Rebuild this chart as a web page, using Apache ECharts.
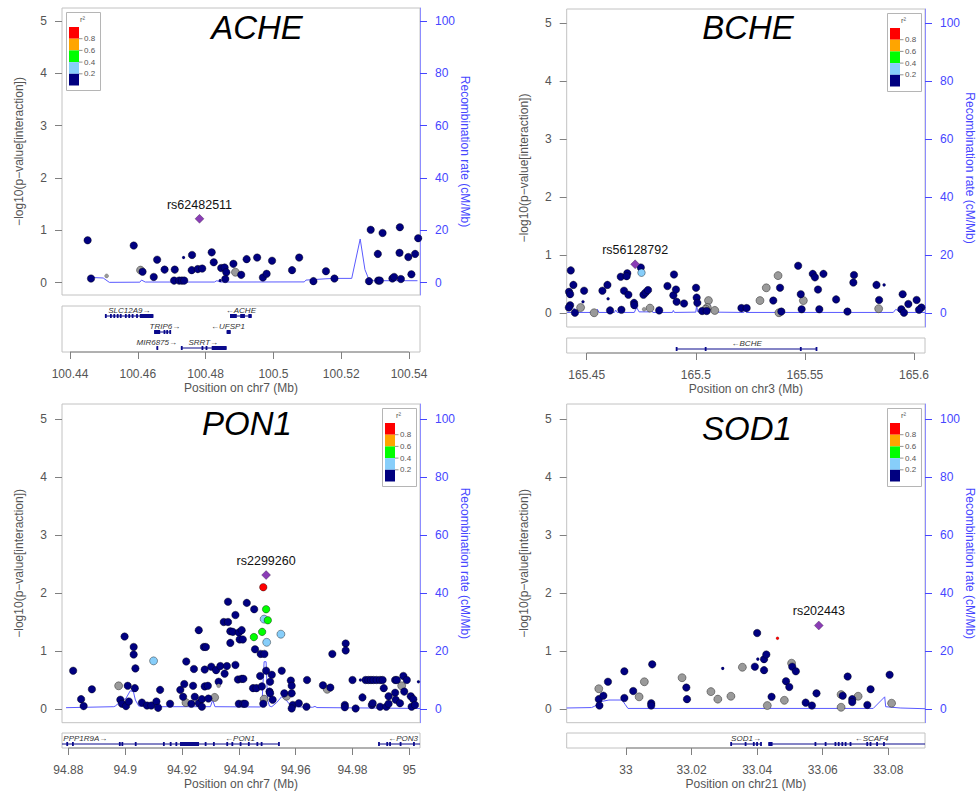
<!DOCTYPE html>
<html>
<head>
<meta charset="utf-8">
<title>Regional association plots</title>
<script src="https://cdn.jsdelivr.net/npm/echarts@6/dist/echarts.min.js"></script>
<style>
  html, body { margin: 0; padding: 0; background: #fff; }
  #main { width: 977px; height: 794px; }
</style>
</head>
<body>
<div id="main"></div>
<script>
var FONT = '"Liberation Sans", Arial, Helvetica, sans-serif';
var NAVY = '#000080', GREY = '#9a9a9a', LBLUE = '#87CEFA', GREEN = '#00FF00', RED = '#FF0000', LEAD = '#8a3db5';
var GENE = '#0a0a8c', BLUE = '#4646ff', RECOMB = '#5a5aff';

// shared tick values and r2 legend
var pTicks = [0, 1, 2, 3, 4, 5];
var recTicks = [0, 20, 40, 60, 80, 100];
var ldColors = ['#FF0000', '#FFA500', '#00FF00', '#87CEFA', '#000080'];
var ldLabels = ['0.8', '0.6', '0.4', '0.2'];

// ---------- ACHE ----------
var acheTicks = [100.44, 100.46, 100.48, 100.5, 100.52, 100.54];
var acheNavy = [[100.4452,0.81],[100.4462,0.08],[100.4588,0.71],[100.4614,0.21],[100.4647,0.11],[100.4657,0.44],
  [100.4679,0.25],[100.4709,0.25],[100.4707,0.04],[100.4722,0.04],[100.4730,0.04],[100.4737,0.04],[100.4760,0.53],
  [100.4759,0.24],[100.4777,0.26],[100.4790,0.27],[100.4818,0.58],[100.4824,0.39],[100.4846,0.28],[100.4856,0.29],
  [100.4861,0.20],[100.4858,0.07],[100.4882,0.36],[100.4905,0.15],[100.4921,0.45],[100.4952,0.48],[100.4969,0.10],
  [100.4980,0.17],[100.4996,0.42],[100.5055,0.24],[100.5076,0.48],[100.5118,0.03],[100.5155,0.22],[100.5180,0.08],
  [100.5282,0.03],[100.5287,1.01],[100.5308,0.55],[100.5309,0.04],[100.5314,0.04],[100.5322,0.95],[100.5351,0.08],
  [100.5356,0.11],[100.5373,1.06],[100.5372,0.57],[100.5376,0.07],[100.5398,0.49],[100.5407,0.16],[100.5418,0.55],
  [100.5427,0.85]];
var acheGrey = [[100.4608,0.24],[100.4888,0.20]];
var acheNavySmall = [[100.4735,0.48],[100.4843,0.04]];
var acheGreySmall = [[100.4508,0.13]];
var acheLead = [[100.4782,1.22]];
var acheRecomb = [[100.4462,2.0],[100.4498,1.8],[100.4516,0.13],[100.4606,0.2],[100.4611,1.0],[100.4622,0.25],
  [100.4826,0.25],[100.4833,0.75],[100.4845,0.25],[100.5091,0.3],[100.5096,1.0],[100.5155,1.5],[100.5184,1.65],
  [100.5231,1.65],[100.5256,16.7],[100.5270,5.0],[100.5282,1.1],[100.5295,0.76],[100.5425,0.76]];
var acheGenes = [
  {name: 'SLC12A9', strand: 1, row: 1, start: 100.4503, end: 100.4646, label: 100.4575,
   exons: [[100.4503,100.4505],[100.4518,100.4519],[100.4528,100.4529],[100.4538,100.4539],[100.4547,100.4548],
           [100.4562,100.4563],[100.4572,100.4573],[100.4582,100.4583],[100.4595,100.4596],[100.4606,100.4646]]},
  {name: 'ACHE', strand: -1, row: 1, start: 100.4872, end: 100.4936, label: 100.4904,
   exons: [[100.4872,100.4892],[100.4902,100.4916],[100.4926,100.4936]]},
  {name: 'TRIP6', strand: 1, row: 2, start: 100.4648, end: 100.4695, label: 100.4680,
   exons: [[100.4648,100.4666],[100.4676,100.4677],[100.4684,100.4685],[100.4693,100.4695]]},
  {name: 'UFSP1', strand: -1, row: 2, start: 100.4862, end: 100.4874, label: 100.4866,
   exons: [[100.4862,100.4874]]},
  {name: 'MIR6875', strand: 1, row: 3, start: 100.4655, end: 100.4657, label: 100.4656,
   exons: [[100.4655,100.4657]]},
  {name: 'SRRT', strand: 1, row: 3, start: 100.4727, end: 100.4862, label: 100.4793,
   exons: [[100.4727,100.4729],[100.4788,100.4790],[100.4800,100.4802],[100.4818,100.4862]]}
];

// ---------- BCHE ----------
var bcheTicks = [165.45, 165.5, 165.55, 165.6];
var bcheNavy = [[165.4427,0.74],[165.4439,0.49],[165.4419,0.37],[165.4424,0.33],[165.4424,0.14],[165.4418,0.10],
  [165.4446,0.01],[165.4488,0.39],[165.4572,0.39],[165.4595,0.49],[165.4607,0.05],[165.4659,0.06],[165.4656,0.63],
  [165.4686,0.69],[165.4683,0.64],[165.4671,0.39],[165.4691,0.32],[165.4717,0.18],[165.4718,0.14],[165.4748,0.79],
  [165.4760,0.32],[165.4770,0.36],[165.4781,0.40],[165.4832,0.05],[165.4870,0.47],[165.4900,0.67],[165.4897,0.31],
  [165.4909,0.41],[165.4912,0.20],[165.4946,0.17],[165.5001,0.44],[165.5004,0.27],[165.5007,0.18],[165.5029,0.04],
  [165.5050,0.04],[165.5209,0.09],[165.5233,0.09],[165.5355,0.22],[165.5386,0.44],[165.5392,0.03],[165.5469,0.82],
  [165.5481,0.33],[165.5485,0.07],[165.5536,0.68],[165.5546,0.62],[165.5585,0.68],[165.5560,0.41],[165.5566,0.07],
  [165.5643,0.24],[165.5695,0.03],[165.5725,0.66],[165.5722,0.53],[165.5828,0.49],[165.5840,0.23],[165.5948,0.33],
  [165.5942,0.07],[165.5954,0.01],[165.5974,0.16],[165.6012,0.23],[165.6034,0.10],[165.6023,0.06]];
var bcheGrey = [[165.4472,0.10],[165.4534,0.01],[165.4790,0.09],[165.5058,0.22],[165.5053,0.10],[165.5045,0.07],
  [165.5087,0.05],[165.5294,0.22],[165.5323,0.44],[165.5377,0.65],[165.5381,0.01],[165.5493,0.22],[165.5838,0.08]];
var bcheLBlue = [[165.4751,0.70]];
var bcheNavySmall = [[165.4483,0.20],[165.4598,0.25],[165.5863,0.49]];
var bcheGreySmall = [[165.4763,0.07]];
var bcheLead = [[165.4722,0.845]];
var bcheRecomb = [[165.4410,0.3],[165.4436,0.3],[165.4442,1.7],[165.4450,0.3],[165.4543,0.3],[165.4549,1.4],
  [165.4556,0.3],[165.4627,0.3],[165.4633,1.1],[165.4640,0.3],[165.4718,0.3],[165.4729,2.0],[165.4740,0.5],
  [165.4790,0.5],[165.4796,1.3],[165.4803,0.3],[165.4893,0.3],[165.4897,1.0],[165.4902,0.3],[165.5000,0.4],
  [165.5004,2.9],[165.5008,0.6],[165.5040,0.9],[165.5058,4.8],[165.5070,1.0],[165.5085,0.4],[165.5220,0.3],
  [165.5225,1.1],[165.5232,0.3],[165.5480,0.3],[165.5485,0.9],[165.5490,0.3],[165.5905,0.3],[165.5917,1.4],
  [165.5935,0.3],[165.6050,0.3]];
var bcheGenes = [
  {name: 'BCHE', strand: -1, row: 1, start: 165.4909, end: 165.5551, label: 165.5233,
   exons: [[165.4908,165.4911],[165.5041,165.5044],[165.5477,165.5485],[165.5549,165.5552]]}
];

// ---------- PON1 ----------
var pon1Ticks = [94.88, 94.9, 94.92, 94.94, 94.96, 94.98, 95];
var pon1Navy = [[94.8817,0.66],[94.8845,0.17],[94.8854,0.05],[94.8883,0.34],[94.8998,1.25],[94.9009,0.40],
  [94.8983,0.16],[94.8989,0.09],[94.9003,0.05],[94.9013,0.13],[94.9030,1.07],[94.9030,0.94],[94.9036,0.70],
  [94.9034,0.36],[94.9059,0.11],[94.9077,0.06],[94.9092,0.06],[94.9110,0.13],[94.9116,0.02],[94.9123,0.33],
  [94.9158,0.09],[94.9194,0.33],[94.9204,0.21],[94.9208,0.43],[94.9215,0.82],[94.9233,0.09],[94.9239,0.40],
  [94.9242,0.69],[94.9245,0.21],[94.9259,1.36],[94.9259,0.10],[94.9270,0.17],[94.9277,1.07],[94.9284,1.07],
  [94.9280,0.39],[94.9280,0.68],[94.9270,0.04],[94.9291,0.40],[94.9293,0.18],[94.9303,0.73],[94.9320,0.67],
  [94.9329,0.47],[94.9335,0.74],[94.9350,0.61],[94.9358,0.74],[94.9362,1.85],[94.9370,1.14],[94.9370,1.34],
  [94.9347,1.50],[94.9362,1.50],[94.9388,1.62],[94.9379,1.33],[94.9400,1.32],[94.9388,0.76],[94.9397,0.51],
  [94.9403,1.20],[94.9400,0.09],[94.9410,1.36],[94.9414,1.20],[94.9428,1.83],[94.9454,1.72],[94.9457,1.03],
  [94.9477,0.95],[94.9490,0.95],[94.9410,0.52],[94.9416,0.52],[94.9450,0.36],[94.9462,0.36],[94.9481,0.39],
  [94.9496,0.66],[94.9516,0.59],[94.9510,0.47],[94.9551,0.66],[94.9486,0.09],[94.9508,0.30],[94.9510,0.27],
  [94.9519,0.16],[94.9560,0.27],[94.9586,0.27],[94.9583,0.49],[94.9586,0.40],[94.9590,0.07],[94.9586,0.01],
  [94.9611,0.10],[94.9638,0.04],[94.9640,0.50],[94.9696,0.41],[94.9722,0.37],[94.9729,0.95],[94.9776,1.13],
  [94.9776,1.01],[94.9773,0.07],[94.9773,0.03],[94.9800,0.50],[94.9811,0.01],[94.9835,0.20],[94.9846,0.50],
  [94.9856,0.50],[94.9865,0.50],[94.9874,0.50],[94.9885,0.50],[94.9897,0.50],[94.9906,0.50],[94.9868,0.07],
  [94.9871,0.10],[94.9897,0.04],[94.9910,0.36],[94.9919,0.04],[94.9927,0.09],[94.9927,0.22],[94.9950,0.50],
  [94.9956,0.50],[94.9979,0.57],[94.9991,0.50],[94.9950,0.28],[94.9952,0.16],[94.9967,0.10],[94.9982,0.30],
  [95.0005,0.22],[95.0014,0.17],[95.0008,0.04],[95.0020,0.07],[94.9416,0.09],[94.9422,0.09],[94.9475,0.57]];
var pon1Grey = [[94.8977,0.40],[94.9214,0.11],[94.9315,0.20],[94.9489,0.17],[94.9568,0.22],[94.9711,0.34],[94.9973,0.40]];
var pon1LBlue = [[94.9100,0.83],[94.9489,1.55],[94.9548,1.29],[94.9498,1.15]];
var pon1Green = [[94.9496,1.72],[94.9502,1.53],[94.9482,1.33],[94.9453,1.24]];
var pon1Red = [[94.9486,2.10]];
var pon1NavySmall = [[94.9828,0.50],[95.0032,0.47]];
var pon1GreySmall = [[94.9329,0.40]];
var pon1Lead = [[94.9496,2.31]];
var pon1Recomb = [[94.8792,0.46],[94.8960,0.8],[94.8965,1.0],[94.8983,2.5],[94.9003,3.7],[94.9018,6.3],
  [94.9029,6.0],[94.9036,3.1],[94.9048,1.0],[94.9089,1.0],[94.9106,2.2],[94.9120,2.0],[94.9127,0.8],[94.9300,0.8],
  [94.9308,3.1],[94.9316,0.8],[94.9475,0.7],[94.9481,1.15],[94.9489,16.3],[94.9496,16.3],[94.9501,3.1],
  [94.9508,1.0],[94.9516,0.8],[94.9533,2.2],[94.9551,4.3],[94.9568,2.9],[94.9586,0.8],[94.9660,0.6],[94.9668,0.9],
  [94.9675,0.5],[95.0038,0.2]];
var pon1Genes = [
  {name: 'PPP1R9A', strand: 1, row: 1, start: 94.5365, end: 94.9283, label: 94.8860,
   exons: [[94.8793,94.8795],[94.8813,94.8815],[94.8978,94.8980],[94.8987,94.8989],[94.9034,94.9036],[94.9133,94.9135],
           [94.9157,94.9159],[94.9177,94.9179],[94.9193,94.9260],[94.9280,94.9282]]},
  {name: 'PON1', strand: -1, row: 1, start: 94.9283, end: 94.9539, label: 94.9404,
   exons: [[94.9309,94.9311],[94.9356,94.9358],[94.9374,94.9376],[94.9403,94.9405],[94.9432,94.9434],
           [94.9462,94.9464],[94.9477,94.9479],[94.9538,94.9540]]},
  {name: 'PON3', strand: -1, row: 1, start: 94.9891, end: 95.0257, label: 94.9978,
   exons: [[94.9890,94.9892],[94.9919,94.9921],[94.9929,94.9931],[94.9966,94.9968],[95.0013,95.0015]]}
];

// ---------- SOD1 ----------
var sod1Ticks = [33, 33.02, 33.04, 33.06, 33.08];
var sod1Navy = [[32.9917,0.17],[32.9931,0.23],[32.9919,0.06],[32.9945,0.47],[32.9995,0.65],[32.9995,0.19],
  [33.0022,0.31],[33.0080,0.77],[33.0077,0.10],[33.0077,0.06],[33.0184,0.37],[33.0186,0.17],[33.0393,0.73],
  [33.0400,1.31],[33.0421,0.86],[33.0428,0.94],[33.0421,0.67],[33.0444,0.21],[33.0488,0.48],[33.0498,0.38],
  [33.0507,0.73],[33.0518,0.65],[33.0548,0.11],[33.0567,0.06],[33.0581,0.27],[33.0661,0.23],[33.0676,0.56],
  [33.0690,0.17],[33.0690,0.12],[33.0736,0.07],[33.0746,0.34],[33.0804,0.59]];
var sod1Grey = [[32.9917,0.35],[33.0040,0.21],[33.0056,0.47],[33.0171,0.54],[33.0259,0.30],[33.0280,0.17],
  [33.0320,0.22],[33.0355,0.72],[33.0431,0.06],[33.0483,0.15],[33.0505,0.79],[33.0656,0.25],[33.0656,0.03],
  [33.0708,0.22],[33.0810,0.10]];
var sod1NavySmall = [[33.0295,0.70],[33.0402,0.86]];
var sod1RedSmall = [[33.0462,1.22]];
var sod1Lead = [[33.0588,1.44]];
var sod1Recomb = [[32.9819,0.35],[32.9895,0.5],[32.9905,1.0],[32.9925,2.6],[32.9948,3.1],[32.9988,3.1],
  [32.9998,1.5],[33.0006,0.2],[33.0754,0.2],[33.0789,4.2],[33.0792,0.8],[33.0836,0.35],[33.0912,0.1]];
var sod1Genes = [
  {name: 'SOD1', strand: 1, row: 1, start: 33.0319, end: 33.0411, label: 33.0366,
   exons: [[33.0318,33.0321],[33.0362,33.0364],[33.0387,33.0389],[33.0397,33.0399],[33.0409,33.0412]]},
  {name: 'SCAF4', strand: -1, row: 1, start: 33.0434, end: 33.1049, label: 33.0749,
   exons: [[33.0434,33.0447],[33.0575,33.0577],[33.0606,33.0608],[33.0636,33.0638],[33.0646,33.0648],
           [33.0657,33.0659],[33.0667,33.0669],[33.0682,33.0684],[33.0733,33.0735],[33.0743,33.0745],
           [33.0763,33.0765],[33.0784,33.0786]]}
];

// layout of the four panels
var panels = [
  {gene: 'ACHE', chr: 'chr7', snp: 'rs62482511', grid: [62, 8, 358, 287], track: [306, 46], rows: [0.375, 3.25],
   x: [100.43764, 100.54324], y: [-0.235, 5.248], title: [257, 27], legendLeft: true,
   ticks: acheTicks, recomb: acheRecomb, lead: acheLead, genes: acheGenes,
   groups: [[acheGrey, GREY, 8], [acheNavy, NAVY, 7.5], [acheGreySmall, GREY, 4], [acheNavySmall, NAVY, 3]]},
  {gene: 'BCHE', chr: 'chr3', snp: 'rs56128792', grid: [566.7, 9, 358.3, 318], track: [338, 15], rows: [0.3125, 1.25],
   x: [165.44083, 165.60504], y: [-0.236, 5.247], title: [748, 27], legendLeft: false,
   ticks: bcheTicks, recomb: bcheRecomb, lead: bcheLead, genes: bcheGenes,
   groups: [[bcheGrey, GREY, 8], [bcheNavy, NAVY, 7.5], [bcheLBlue, LBLUE, 7.5], [bcheGreySmall, GREY, 4], [bcheNavySmall, NAVY, 3]]},
  {gene: 'PON1', chr: 'chr7', snp: 'rs2299260', grid: [62, 404, 358, 318.7], track: [733, 15], rows: [0.3125, 1.25],
   x: [94.87778, 95.00375], y: [-0.236, 5.259], title: [247, 423], legendLeft: false,
   ticks: pon1Ticks, recomb: pon1Recomb, lead: pon1Lead, genes: pon1Genes,
   groups: [[pon1Grey, GREY, 8], [pon1Navy, NAVY, 7.5], [pon1GreySmall, GREY, 4], [pon1NavySmall, NAVY, 3],
            [pon1LBlue, LBLUE, 8], [pon1Green, GREEN, 7.5], [pon1Red, RED, 7.5]]},
  {gene: 'SOD1', chr: 'chr21', snp: 'rs202443', grid: [566.7, 404, 358.3, 318.7], track: [733, 15], rows: [0.3125, 1.25],
   x: [32.98192, 33.09119], y: [-0.236, 5.259], title: [747, 428], legendLeft: false,
   ticks: sod1Ticks, recomb: sod1Recomb, lead: sod1Lead, genes: sod1Genes,
   groups: [[sod1Grey, GREY, 8], [sod1Navy, NAVY, 7.5], [sod1NavySmall, NAVY, 3], [sod1RedSmall, RED, 3]]}
];

var grids = [], xAxes = [], yAxes = [], series = [], graphics = [];
var axisText = {color: '#555', fontSize: 12, fontFamily: FONT};

function geneSeries(genes, gi, ai) {
  return {
    type: 'custom', xAxisIndex: gi, yAxisIndex: ai, silent: true, animation: false, z: 3,
    data: genes.map(function (d) { return [d.start, d.end, d.row]; }),
    encode: {x: [0, 1], y: 2},
    renderItem: function (params, api) {
      var d = genes[params.dataIndex];
      var cs = params.coordSys;
      var lo = cs.x, hi = cs.x + cs.width;
      var y = api.coord([d.start, d.row])[1];
      var x0 = Math.max(api.coord([d.start, d.row])[0], lo);
      var x1 = Math.min(api.coord([d.end, d.row])[0], hi);
      var kids = [{type: 'line', shape: {x1: x0, y1: y, x2: x1, y2: y}, style: {stroke: GENE, lineWidth: 1}}];
      d.exons.forEach(function (e) {
        var ea = Math.max(api.coord([e[0], d.row])[0], lo);
        var eb = Math.min(api.coord([e[1], d.row])[0], hi);
        if (eb < ea) return;
        var w = Math.max(eb - ea, 1.8);
        kids.push({type: 'rect', shape: {x: ea, y: y - 2, width: w, height: 4}, style: {fill: GENE}});
      });
      var lx = api.coord([d.label, d.row])[0];
      kids.push({type: 'text', style: {
        text: d.strand > 0 ? d.name + '\u2192' : '\u2190' + d.name,
        x: lx, y: y - 6, align: 'center', verticalAlign: 'middle',
        fontSize: 8, fontStyle: 'italic', fontFamily: FONT, fill: '#333'}});
      return {type: 'group', children: kids};
    }
  };
}

function legendGroup(left, top) {
  var kids = [{type: 'rect', shape: {x: 0, y: 0, width: 34, height: 78},
               style: {fill: '#fff', stroke: '#b5b5b5', lineWidth: 1}}];
  kids.push({type: 'text', style: {text: 'r\u00b2', x: 16, y: 7, align: 'center', verticalAlign: 'middle',
             fontSize: 7.5, fontFamily: FONT, fill: '#555'}});
  ldColors.forEach(function (c, k) {
    kids.push({type: 'rect', shape: {x: 2.5, y: 14.5 + k * 11.7, width: 10, height: 11.7}, style: {fill: c}});
  });
  ldLabels.forEach(function (t, k) {
    var yy = 14.5 + (k + 1) * 11.7;
    kids.push({type: 'line', shape: {x1: 12.5, y1: yy, x2: 16, y2: yy}, style: {stroke: '#777', lineWidth: 0.8}});
    kids.push({type: 'text', style: {text: t, x: 17.5, y: yy, verticalAlign: 'middle',
               fontSize: 8, fontFamily: FONT, fill: '#555'}});
  });
  return {type: 'group', left: left, top: top, children: kids, silent: true};
}

panels.forEach(function (p, i) {
  var g = 2 * i, a = 3 * i;
  var gl = p.grid[0], gt = p.grid[1], gw = p.grid[2], gh = p.grid[3];
  grids.push({left: gl, top: gt, width: gw, height: gh, show: true, borderColor: '#c2c2c2', borderWidth: 1});
  grids.push({left: gl, top: p.track[0], width: gw, height: p.track[1], show: true, borderColor: '#c2c2c2', borderWidth: 1});

  xAxes.push({type: 'value', gridIndex: g, min: p.x[0], max: p.x[1], show: false});
  xAxes.push({type: 'value', gridIndex: g + 1, min: p.x[0], max: p.x[1], position: 'bottom',
    axisLine: {show: false}, splitLine: {show: false},
    axisTick: {customValues: p.ticks, length: 7, lineStyle: {color: '#808080'}},
    axisLabel: Object.assign({customValues: p.ticks, margin: 16}, axisText),
    name: 'Position on ' + p.chr + ' (Mb)', nameLocation: 'middle', nameGap: 30, nameTextStyle: axisText});

  yAxes.push({type: 'value', gridIndex: g, position: 'left', min: p.y[0], max: p.y[1],
    axisLine: {show: false}, splitLine: {show: false},
    axisTick: {show: true, customValues: pTicks, length: 7, lineStyle: {color: '#808080'}},
    axisLabel: Object.assign({customValues: pTicks, margin: 15}, axisText),
    name: '\u2212log10(p\u2212value[interaction])', nameLocation: 'middle', nameGap: 37, nameTextStyle: axisText});
  yAxes.push({type: 'value', gridIndex: g, position: 'right', min: p.y[0] * 20, max: p.y[1] * 20,
    axisLine: {show: true, lineStyle: {color: '#8c8cff', width: 1}}, splitLine: {show: false},
    axisTick: {show: true, customValues: recTicks, length: 7, lineStyle: {color: BLUE}},
    axisLabel: {customValues: recTicks, margin: 15, color: BLUE, fontSize: 12, fontFamily: FONT},
    name: 'Recombination rate (cM/Mb)', nameLocation: 'middle', nameRotate: -90, nameGap: 37,
    nameTextStyle: {color: BLUE, fontSize: 12, fontFamily: FONT}});
  yAxes.push({type: 'value', gridIndex: g + 1, min: p.rows[0], max: p.rows[1], inverse: true, show: false});

  series.push({type: 'line', xAxisIndex: g, yAxisIndex: a + 1, data: p.recomb, symbol: 'none',
    lineStyle: {color: RECOMB, width: 1}, z: 1, silent: true, animation: false});

  p.groups.forEach(function (grp) {
    series.push({type: 'scatter', xAxisIndex: g, yAxisIndex: a, data: grp[0], symbolSize: grp[2],
      itemStyle: {color: grp[1], opacity: 1, borderColor: 'rgba(0,0,0,0.55)', borderWidth: grp[2] > 5 ? 0.7 : 0.3},
      z: 3, silent: true, animation: false});
  });

  series.push({type: 'scatter', xAxisIndex: g, yAxisIndex: a, data: p.lead, symbol: 'diamond', symbolSize: 9,
    itemStyle: {color: LEAD, opacity: 1, borderColor: 'rgba(0,0,0,0.4)', borderWidth: 0.6}, z: 4, silent: true, animation: false,
    label: {show: true, position: 'top', distance: 3, formatter: p.snp, color: '#111', fontSize: 12.5, fontFamily: FONT}});

  series.push(geneSeries(p.genes, g + 1, a + 2));

  // axis baseline from first to last tick, under the gene track
  series.push({type: 'line', xAxisIndex: g + 1, yAxisIndex: a + 2, clip: false, symbol: 'none', silent: true,
    animation: false, z: 2,
    data: [[p.ticks[0], p.rows[1]], [p.ticks[p.ticks.length - 1], p.rows[1]]],
    lineStyle: {color: '#808080', width: 1}});

  graphics.push({type: 'text', x: p.title[0], y: p.title[1], silent: true,
    style: {text: p.gene, x: 0, y: 0, align: 'center', verticalAlign: 'middle',
            fontSize: 33, fontStyle: 'italic', fontFamily: FONT, fill: '#000'}});
  graphics.push(legendGroup(p.legendLeft ? gl + 4 : gl + gw - 38, gt + 4));
});

var chart = echarts.init(document.getElementById('main'), null, {renderer: 'svg'});
chart.setOption({
  animation: false,
  backgroundColor: '#fff',
  grid: grids,
  xAxis: xAxes,
  yAxis: yAxes,
  series: series,
  graphic: graphics
});
</script>
</body>
</html>
